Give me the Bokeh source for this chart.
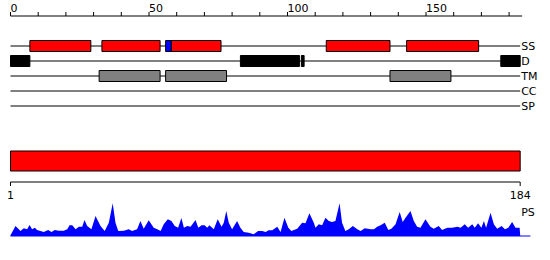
from bokeh.plotting import figure
from bokeh.models import Range1d
from bokeh.core.properties import value
from bokeh.embed import file_html
from bokeh.resources import INLINE

# ---------------- data ----------------
seq_len = 184
top_ticks = list(range(0, 181, 10))
top_labels = ["0", "50", "100", "150"]
top_label_pos = [0, 50, 100, 150]

tracks = ["SS", "D", "TM", "CC", "SP"]

ss_start = [7, 33, 58, 114, 143]
ss_end = [29, 54, 76, 137, 169]
ss_blue_start = [56]
ss_blue_end = [58]
d_start = [0, 83, 105, 177]
d_end = [7, 104.3, 106, 184]
tm_start = [32, 56, 137]
tm_end = [54, 78, 159]

bottom_labels = ["1", "184"]

ps_pos = [0, 1.8, 3.0, 3.6, 4.8, 6.0, 6.9, 7.8, 8.8, 9.6, 10.8, 12.0, 13.6, 14.8, 16.0,
          17.4, 19.2, 20.5, 21.3, 22.3, 23.5, 24.7, 25.9, 26.7, 27.7, 29.2, 30.7, 32.5,
          34.0, 35.5, 36.9, 37.9, 38.9, 40.9, 42.7, 43.9, 45.7, 46.9, 48.1, 49.9, 51.7,
          53.0, 54.2, 55.3, 56.8, 58.1, 59.3, 60.5, 61.7, 62.6, 63.8, 65.0, 66.8, 67.8,
          69.0, 70.1, 71.0, 71.8, 73.4, 74.8, 76.2, 77.0, 77.9, 78.8, 80.0, 81.8, 83.0,
          84.2, 86.0, 87.8, 89.4, 90.9, 92.1, 93.2, 94.5, 96.3, 97.5, 98.9, 100.3, 101.4,
          103.5, 105.3, 106.5, 107.9, 109.5, 110.1, 111.3, 112.5, 113.7, 114.9, 116.1,
          117.3, 118.8, 119.7, 120.9, 122.1, 123.6, 125.2, 126.4, 127.9, 130.0, 131.2,
          132.4, 133.6, 135.1, 136.4, 137.5, 139.0, 140.5, 141.6, 142.6, 144.4, 145.6,
          146.8, 148.0, 149.8, 151.6, 152.8, 154.6, 155.8, 157.7, 159.5, 161.3, 162.5,
          164.0, 165.2, 166.7, 167.6, 168.8, 170.0, 170.9, 171.7, 173.3, 174.5, 175.7,
          177.3, 178.5, 179.7, 181.1, 182.3, 183.8, 184.0]
ps_val = [0.7, 10, 6.7, 5, 7.7, 6.7, 11, 6.7, 8.3, 6, 5, 4, 6, 4, 6,
          5.3, 5.3, 6.7, 10.7, 10.7, 6.7, 9.3, 9.3, 16, 10, 6.7, 20, 10,
          5, 13.3, 32.7, 13.3, 5, 5.3, 6.7, 5, 6.7, 15, 7.3, 15.7, 8.3,
          6.7, 5, 11.7, 16.7, 15, 10, 8.3, 18, 8.3, 10, 9.3, 16, 8.3,
          10.7, 10.7, 8.3, 10.7, 6.7, 16.7, 9.3, 13.3, 25, 13.3, 6.7, 15, 8.3,
          4, 3.3, 1.7, 5, 5, 4, 5.7, 5.7, 9.3, 4, 18.3, 8.3, 5,
          7.3, 13.3, 12.7, 22.7, 13.3, 8.3, 11.7, 10.7, 18.3, 15, 14,
          15, 32.7, 13.3, 5, 6.7, 10, 6.7, 5, 7.7, 6.7, 6.7,
          9.3, 10.7, 13.3, 6, 7.3, 11.7, 24, 14, 18.3, 25, 15,
          9.3, 8.3, 16.7, 9.3, 7.3, 10, 6, 8.3, 8.3, 9.3, 8.3,
          11.7, 8.3, 11.7, 8.3, 12.7, 8.3, 15, 8.3, 23.3, 11.7, 7.3,
          10, 6.7, 8.3, 14, 8.3, 8.3, 1.0]

# ---------------- layout constants ----------------
W, H = 550, 260
PX0 = 10.0
SCALE = 2.77          # pixels per residue
ROW0, ROW_STEP = 45.5, 15
BOX_H = 11
FONT = value("DejaVu Sans")

p = figure(width=W, height=H, output_backend="svg", toolbar_location=None,
           x_range=Range1d(-PX0 / SCALE, (W - PX0) / SCALE),
           y_range=Range1d(H, 0), min_border=0, outline_line_color=None,
           x_axis_type=None, y_axis_type=None)
p.grid.visible = False
p.background_fill_color = "white"
p.border_fill_color = "white"

# extra y range for the PS profile (baseline at ~235 px, 1 unit per pixel)
from bokeh.models import Range1d as R
PS_BASE = 235.5
p.extra_y_ranges = {"ps": R(start=-(H - PS_BASE), end=PS_BASE)}

# ---- top ruler ----
AX_Y = 15.5
p.segment(x0=[0], x1=[seq_len + 0.7], y0=[AX_Y], y1=[AX_Y], line_color="black", line_width=1)
p.segment(x0=top_ticks, x1=top_ticks, y0=[AX_Y] * len(top_ticks), y1=[AX_Y - 4] * len(top_ticks),
          line_color="black", line_width=1)
p.text(x=top_label_pos, y=[11] * len(top_label_pos), text=top_labels, text_align="left",
       text_baseline="bottom", text_font=FONT, text_font_size="11px", text_color="black",
       x_offset=0)

# ---- track lines & labels ----
row_y = [ROW0 + i * ROW_STEP for i in range(len(tracks))]
p.segment(x0=[0] * len(tracks), x1=[seq_len] * len(tracks), y0=row_y, y1=row_y,
          line_color="black", line_width=1)
p.text(x=[seq_len] * len(tracks), y=row_y, text=tracks, text_align="left",
       text_baseline="middle", text_font=FONT, text_font_size="11px", text_color="black",
       x_offset=1)


def boxes(starts, ends, row, color):
    y = row_y[row]
    p.quad(left=starts, right=ends, top=[y - BOX_H / 2] * len(starts),
           bottom=[y + BOX_H / 2] * len(starts), fill_color=color,
           line_color="black", line_width=1)


boxes(ss_start, ss_end, 0, "#ff0000")
boxes(ss_blue_start, ss_blue_end, 0, "#0000ff")
boxes(d_start, d_end, 1, "#000000")
boxes(tm_start, tm_end, 2, "#808080")

# ---- full-length bar ----
p.quad(left=[0], right=[seq_len], top=[150.5], bottom=[170.5], fill_color="#ff0000",
       line_color="black", line_width=1)

# ---- bottom ruler ----
BX_Y = 181.5
p.segment(x0=[0], x1=[seq_len], y0=[BX_Y], y1=[BX_Y], line_color="black", line_width=1)
p.segment(x0=[0, seq_len], x1=[0, seq_len], y0=[BX_Y] * 2, y1=[BX_Y + 4] * 2,
          line_color="black", line_width=1)
p.text(x=[0, seq_len], y=[190, 190], text=bottom_labels, text_align="center",
       text_baseline="top", text_font=FONT, text_font_size="11px", text_color="black")
p.text(x=[seq_len], y=[205], text=["PS"], text_align="left", text_baseline="top",
       text_font=FONT, text_font_size="11px", text_color="black", x_offset=1)

# ---- PS profile ----
p.varea(x=ps_pos, y1=[0] * len(ps_pos), y2=ps_val, fill_color="#0000ff", y_range_name="ps")
p.segment(x0=[0], x1=[seq_len + 3.7], y0=[0], y1=[0], line_color="#0000ff", line_width=1,
          y_range_name="ps")

open("out.html", "w").write(file_html(p, INLINE))
